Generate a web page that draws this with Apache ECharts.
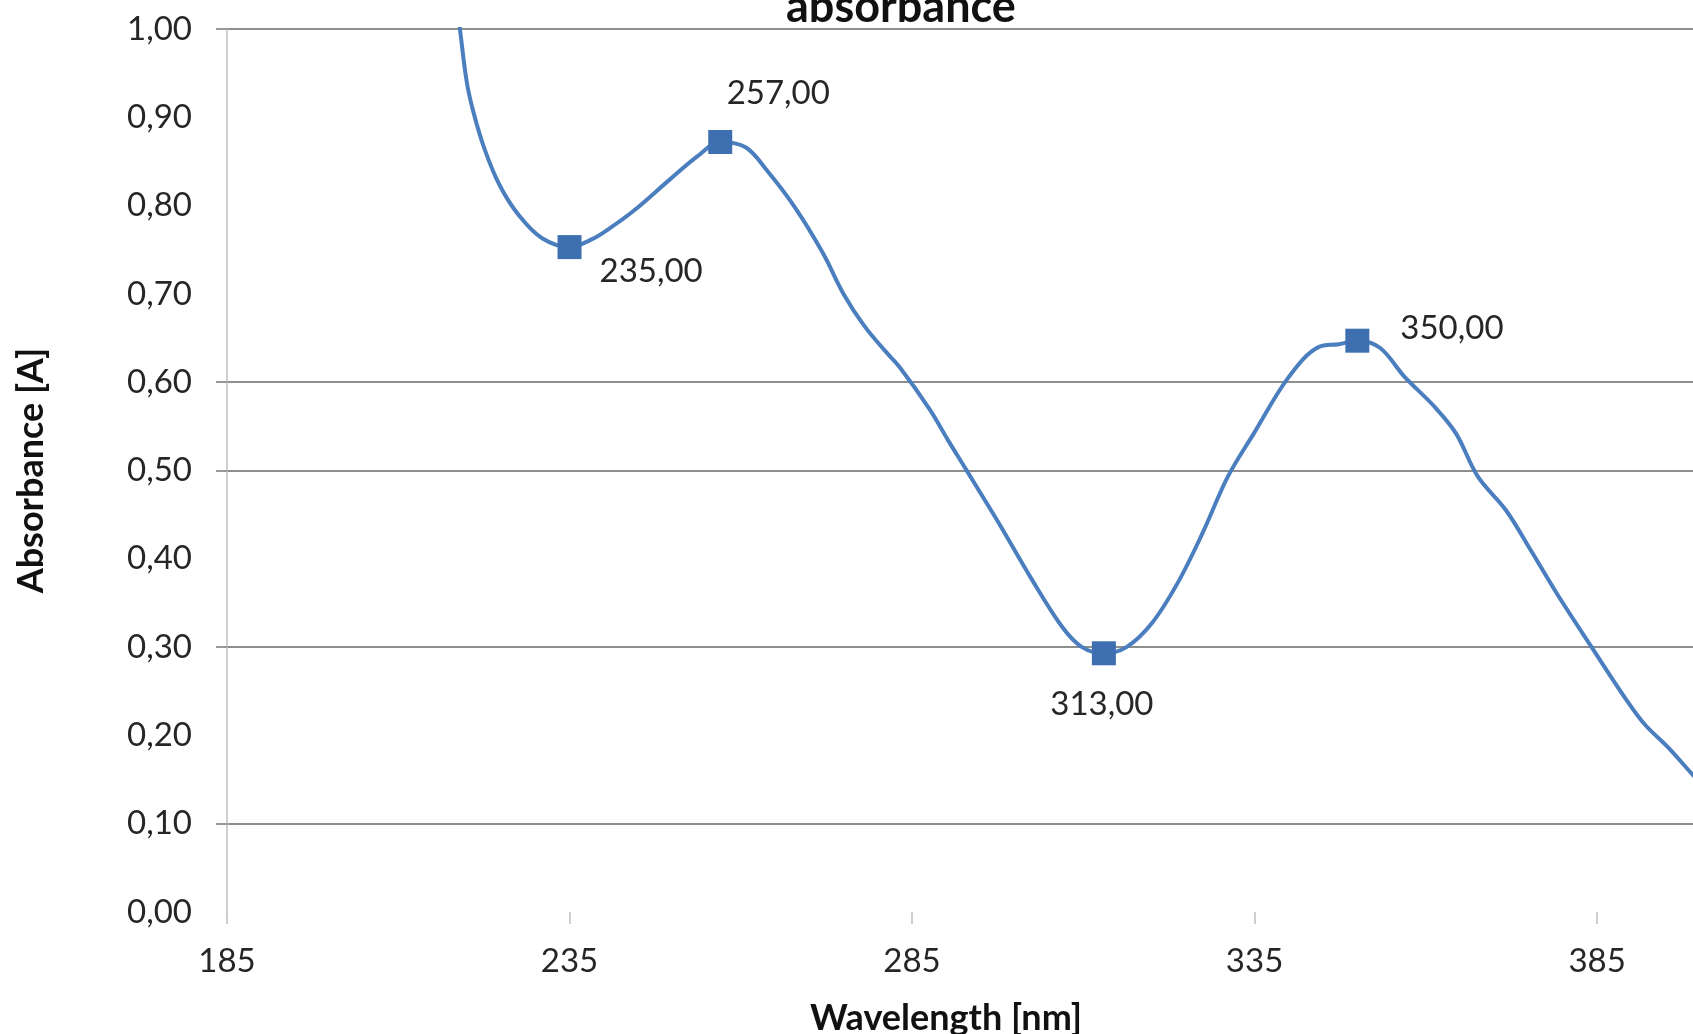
<!DOCTYPE html>
<html>
<head>
<meta charset="utf-8">
<script src="https://cdn.jsdelivr.net/npm/echarts@6/dist/echarts.min.js"></script>
<style>
  html, body { margin: 0; padding: 0; background: #ffffff; }
  #chart { width: 1693px; height: 1034px; }
</style>
</head>
<body>
<div id="chart"></div>
<script>
// UV-Vis absorbance spectrum (wavelength in nm, absorbance in A)
const wavelength = [
  216, 218, 219, 220, 221, 222.6, 224.8, 227.6, 231, 235,
  238.3, 241, 244.5, 249.7, 253.7, 257, 260.7, 263.8, 267.9, 272,
  275, 278, 281, 283.2, 287.6, 290.2, 292.9, 295.5, 298, 302.3,
  306.9, 309.8, 313, 316.3, 320, 323.8, 327.4, 331.1, 334.9, 340,
  344.4, 347.3, 350, 353.3, 356.9, 361.3, 364.4, 367.6, 371.7, 375.3,
  379.1, 384.2, 389.3, 392, 395.3, 399, 402
];
const absorbance = [
  1.20, 1.06, 1.00, 0.94, 0.905, 0.864, 0.823, 0.789, 0.763, 0.753,
  0.762, 0.775, 0.795, 0.830, 0.856, 0.872, 0.866, 0.840, 0.798, 0.746,
  0.700, 0.664, 0.636, 0.617, 0.569, 0.535, 0.501, 0.468, 0.436, 0.379,
  0.323, 0.300, 0.293, 0.300, 0.327, 0.373, 0.429, 0.493, 0.542, 0.606,
  0.640, 0.643, 0.647, 0.639, 0.606, 0.572, 0.542, 0.493, 0.455, 0.410,
  0.361, 0.300, 0.240, 0.212, 0.187, 0.155, 0.130
];

// Marked extrema (maxima and minima) of the spectrum
const peakWavelength = [235, 257, 313, 350];
const peakAbsorbance = [0.753, 0.872, 0.293, 0.647];

// Axis scales
const xAxisMin = 185;
const xAxisMax = 399;
const xAxisStep = 50;
const yAxisStep = 0.1;
const yGridValues = [0.1, 0.3, 0.5, 0.6, 1.0];

const FONT = 'Lato, "Open Sans", "DejaVu Sans", sans-serif';
const LINE_BLUE = '#4a7ebe';
const MARK_BLUE = '#3e6fb1';
const TEXT = '#262626';

// Label placement for each marked extremum
const peakLabelLayout = [
  { position: 'right', offset: [13, 24] },
  { position: 'top', offset: [58, -15] },
  { position: 'bottom', offset: [-2, 18] },
  { position: 'right', offset: [26, -12] }
];

const commaFixed = (v) => Number(v).toFixed(2).replace('.', ',');

const spectrum = wavelength.map((w, i) => [w, absorbance[i]]);
const peaks = peakWavelength.map((w, i) => ({
  value: [w, peakAbsorbance[i]],
  label: peakLabelLayout[i]
}));

const chart = echarts.init(document.getElementById('chart'), null, { renderer: 'canvas' });

chart.setOption({
  animation: false,
  backgroundColor: '#ffffff',
  title: {
    text: 'absorbance',
    left: 786,
    top: -15,
    padding: 0,
    textStyle: { fontFamily: FONT, fontWeight: 'bold', fontSize: 45, color: '#111111' }
  },
  grid: {
    left: 227, right: 0, top: 29, bottom: 122,
    containLabel: false,
    outerBoundsMode: 'none'
  },
  xAxis: {
    type: 'value',
    min: xAxisMin,
    max: xAxisMax,
    interval: xAxisStep,
    name: 'Wavelength [nm]',
    nameLocation: 'middle',
    nameGap: 88,
    nameTextStyle: {
      fontFamily: FONT, fontWeight: 'bold', fontSize: 36, color: '#111111',
      padding: [0, 28, 0, 0]
    },
    axisLine: { show: false },
    axisTick: { show: true, length: 12, lineStyle: { color: '#bfbfbf', width: 1.5 } },
    axisLabel: {
      margin: 33,
      fontFamily: FONT, fontSize: 33, color: TEXT,
      showMaxLabel: false,
      formatter: (v) => String(v)
    },
    splitLine: { show: false }
  },
  yAxis: {
    type: 'value',
    min: 0,
    max: 1,
    interval: yAxisStep,
    name: 'Absorbance [A]',
    nameLocation: 'middle',
    nameGap: 178,
    nameRotate: 90,
    nameTextStyle: { fontFamily: FONT, fontWeight: 'bold', fontSize: 36, color: '#111111' },
    axisLine: { show: true, lineStyle: { color: '#bfbfbf', width: 1.5 } },
    axisTick: {
      show: true, length: 11, customValues: yGridValues,
      lineStyle: { color: '#8e8e8e', width: 1.8 }
    },
    axisLabel: {
      margin: 35,
      fontFamily: FONT, fontSize: 33, color: TEXT,
      formatter: commaFixed
    },
    splitLine: { show: true, lineStyle: { color: '#8e8e8e', width: 1.8 } }
  },
  series: [
    {
      type: 'line',
      data: spectrum,
      smooth: 0.35,
      showSymbol: false,
      clip: true,
      lineStyle: { color: LINE_BLUE, width: 4 },
      z: 2
    },
    {
      type: 'scatter',
      data: peaks,
      symbol: 'rect',
      symbolSize: 24,
      itemStyle: { color: MARK_BLUE, opacity: 1 },
      label: {
        show: true,
        distance: 5,
        fontFamily: FONT,
        fontSize: 33,
        color: TEXT,
        formatter: (p) => commaFixed(p.value[0])
      },
      z: 3
    }
  ]
});
</script>
</body>
</html>
